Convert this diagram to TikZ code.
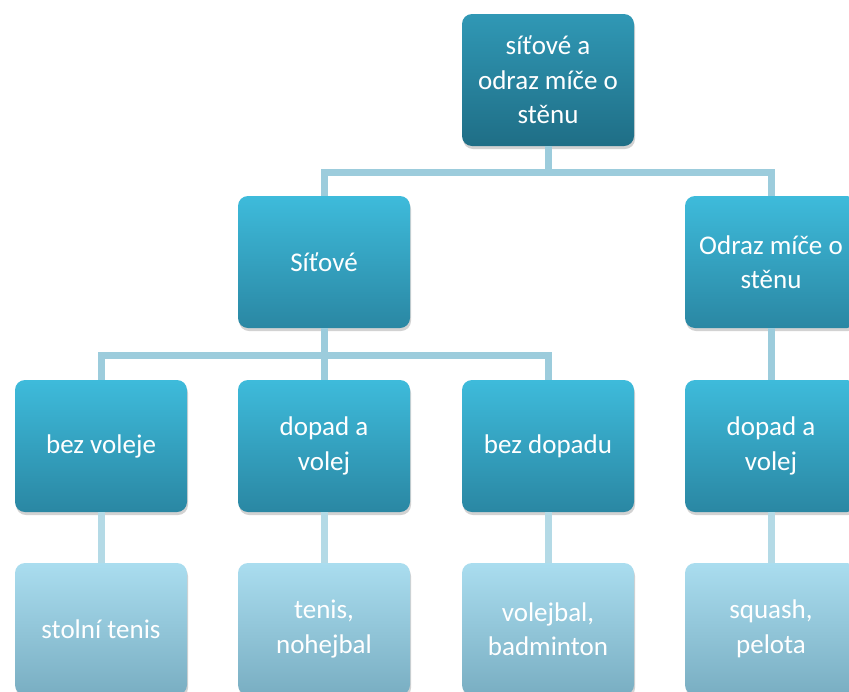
\documentclass[tikz,border=0pt]{standalone}
\usepackage{fontspec}
\setmainfont{Carlito}
\usetikzlibrary{shadows}
\definecolor{darktop}{HTML}{3098B5}
\definecolor{darkbot}{HTML}{1F6E86}
\definecolor{midtop}{HTML}{3EBBDB}
\definecolor{midbot}{HTML}{2A87A3}
\definecolor{lighttop}{HTML}{AADDEF}
\definecolor{lightbot}{HTML}{79AEC2}
\definecolor{linkblue}{HTML}{9CCCDC}
\definecolor{linklight}{HTML}{B4DAE6}
\tikzset{
  box/.style={rounded corners=10pt, minimum width=172pt, minimum height=132pt,
    inner sep=2pt, align=center, text=white, font=\fontsize{27}{34.5}\selectfont,
    drop shadow={opacity=0.35, shadow xshift=1pt, shadow yshift=-3pt}},
  darkbox/.style={box, top color=darktop, bottom color=darkbot},
  midbox/.style={box, top color=midtop, bottom color=midbot},
  lightbox/.style={box, top color=lighttop, bottom color=lightbot},
  link/.style={draw=linkblue, line width=7pt, line join=miter}
}
\begin{document}
\begin{tikzpicture}[x=1pt,y=-1pt]
    \useasboundingbox (0,0) rectangle (849,691);
    \clip (0,0) rectangle (849,691);
    \fill[white] (0,0) rectangle (849,691);
    % connectors
    \coordinate (forktop) at (548,172);
    \coordinate (forksit) at (324,355);
    \node[darkbox] (root) at (548,80) {síťové a\\odraz míče o\\stěnu};
    \node[midbox] (sit) at (324,262) {Síťové};
    \node[midbox] (odraz) at (771,262) {Odraz míče o\\stěnu};
    \node[midbox] (bezvol) at (101,446) {bez voleje};
    \node[midbox] (dopvol) at (324,446) {dopad a\\volej};
    \node[midbox] (bezdop) at (548,446) {bez dopadu};
    \node[midbox] (dopvolb) at (771,446) {dopad a\\volej};
    \node[lightbox] (stolni) at (101,629) {stolní tenis};
    \node[lightbox] (tenis) at (324,629) {tenis,\\nohejbal};
    \node[lightbox] (volej) at (548,629) {volejbal,\\badminton};
    \node[lightbox] (squash) at (771,629) {squash,\\pelota};
    \draw[link] (root.south) -- (forktop) -| (sit.north);
    \draw[link] (forktop) -| (odraz.north);
    \draw[link] (sit.south) -- (forksit) -| (bezvol.north);
    \draw[link] (forksit) -- (dopvol.north);
    \draw[link] (forksit) -| (bezdop.north);
    \draw[link] (odraz.south) -- (dopvolb.north);
    \draw[link, draw=linklight] (bezvol.south) -- (stolni.north);
    \draw[link, draw=linklight] (dopvol.south) -- (tenis.north);
    \draw[link, draw=linklight] (bezdop.south) -- (volej.north);
    \draw[link, draw=linklight] (dopvolb.south) -- (squash.north);
\end{tikzpicture}
\end{document}
